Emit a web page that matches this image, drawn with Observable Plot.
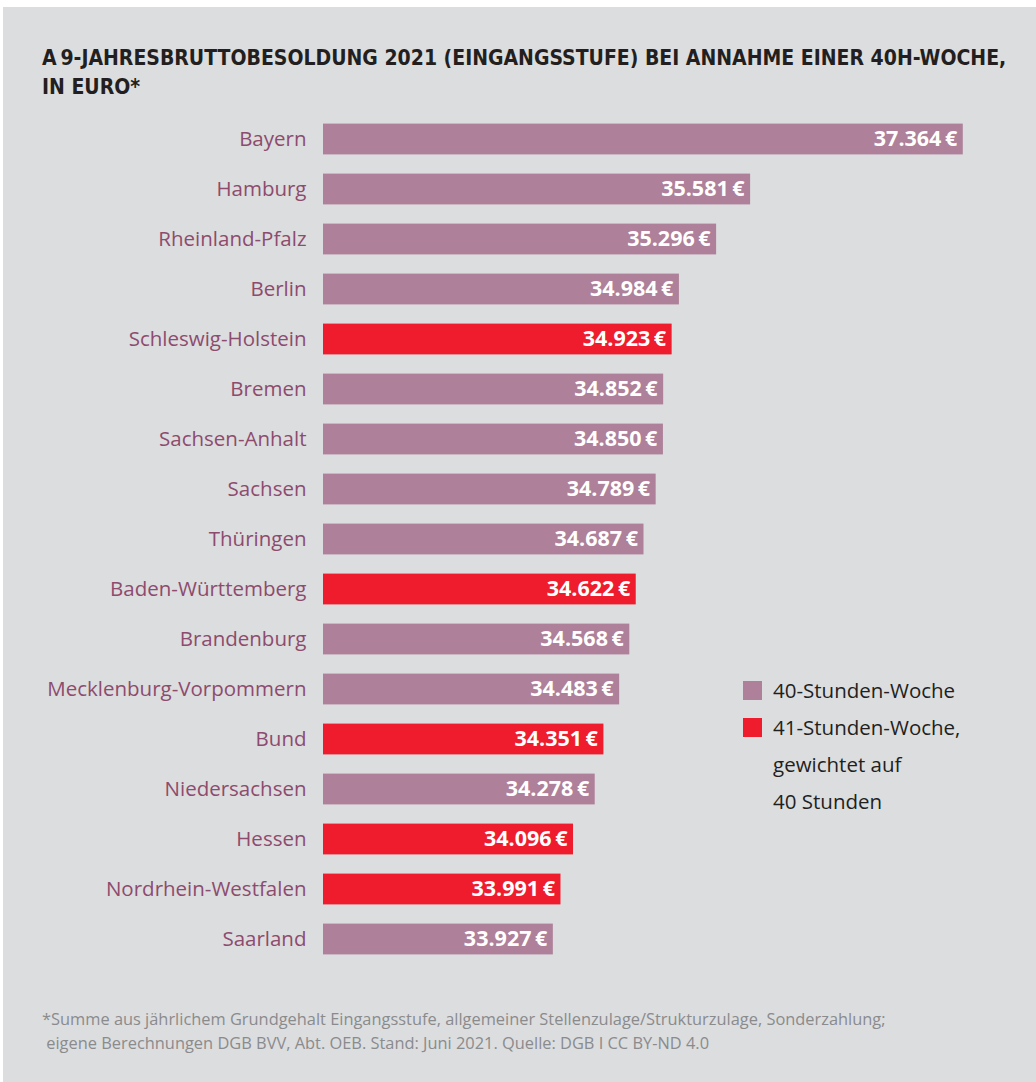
<!DOCTYPE html>
<html>
<head>
<meta charset="utf-8">
<script src="https://cdn.jsdelivr.net/npm/d3@7"></script>
<script src="https://cdn.jsdelivr.net/npm/@observablehq/plot@0.6"></script>
<style>
  html, body { margin: 0; padding: 0; background: #ffffff; }
  #page { position: relative; width: 1036px; height: 1082px; overflow: hidden; }
  #panel { position: absolute; left: 3px; top: 7px; right: 0; bottom: 0; background: #dcdddf; }
  #title { position: absolute; left: 42px; top: 44px; width: 990px; font-family: "Liberation Sans Narrow", "DejaVu Sans Condensed", "Open Sans", sans-serif; font-weight: bold; font-size: 21px; line-height: 29px; color: #231f20; }
  #chart { position: absolute; left: 0; top: 110px; }
  #legend { position: absolute; left: 743px; top: 672px; font-family: "Open Sans", sans-serif; font-size: 20.5px; color: #231f20; line-height: 37px; }
  .li { position: relative; padding-left: 30px; }
  .sw { position: absolute; left: 0; top: 9px; width: 19px; height: 19px; }
  #foot { position: absolute; left: 42px; top: 1007px; font-family: "Open Sans", sans-serif; font-size: 16.4px; line-height: 24px; color: #8a8b8d; }
</style>
</head>
<body>
<div id="page">
  <div id="panel"></div>
  <div id="title">A&#8201;9-JAHRESBRUTTOBESOLDUNG 2021 (EINGANGSSTUFE) BEI ANNAHME EINER 40H-WOCHE,<br>IN EURO*</div>
  <div id="chart"></div>
  <div id="legend"></div>
  <div id="foot">*Summe aus jährlichem Grundgehalt Eingangsstufe, allgemeiner Stellenzulage/Strukturzulage, Sonderzahlung;<br>&nbsp;eigene Berechnungen DGB BVV, Abt. OEB. Stand: Juni 2021. Quelle: DGB I CC BY-ND 4.0</div>
</div>
<script>
const states = ["Bayern","Hamburg","Rheinland-Pfalz","Berlin","Schleswig-Holstein","Bremen","Sachsen-Anhalt","Sachsen","Thüringen","Baden-Württemberg","Brandenburg","Mecklenburg-Vorpommern","Bund","Niedersachsen","Hessen","Nordrhein-Westfalen","Saarland"];
const salaries = [37364,35581,35296,34984,34923,34852,34850,34789,34687,34622,34568,34483,34351,34278,34096,33991,33927];
const weekType = ["40","40","40","40","41","40","40","40","40","41","40","40","41","40","41","41","40"];
const legendLabels = ["40-Stunden-Woche", "41-Stunden-Woche,<br>gewichtet auf<br>40 Stunden"];
const weekKeys = ["40","41"];
const colors = ["#ae8099", "#ee1c2d"];

const data = states.map((s, i) => ({state: s, value: salaries[i], week: weekType[i]}));
const loc = d3.formatLocale({decimal: ",", thousands: ".", grouping: [3], currency: ["", "\u2009€"]});
const fmt = v => loc.format(",")(v) + "\u2009€";

const chart = Plot.plot({
  width: 1036,
  height: 860,
  marginLeft: 323,
  marginRight: 57,
  marginTop: 2.4,
  marginBottom: 4.7,
  style: {background: "transparent", fontFamily: "'Open Sans', sans-serif"},
  x: {domain: [32000, 37500], axis: null},
  y: {domain: states, padding: 0, label: null},
  color: {domain: weekKeys, range: colors},
  marks: [
    Plot.barX(data, {x1: 32000, x2: "value", y: "state", fill: "week", insetTop: 9.6, insetBottom: 9.6}),
    Plot.text(data, {x: "value", y: "state", text: d => fmt(d.value), textAnchor: "end", dx: -6, fill: "white", fontWeight: "bold", fontSize: 21.5}),
    Plot.axisY({tickSize: 0, tickPadding: 17, fontSize: 20.5, color: "#8d4b6d", label: null})
  ]
});
document.getElementById("chart").appendChild(chart);

const legend = document.getElementById("legend");
weekKeys.forEach((k, i) => {
  const div = document.createElement("div");
  div.className = "li";
  div.innerHTML = `<span class="sw" style="background:${colors[i]}"></span>${legendLabels[i]}`;
  legend.appendChild(div);
});
</script>
</body>
</html>
